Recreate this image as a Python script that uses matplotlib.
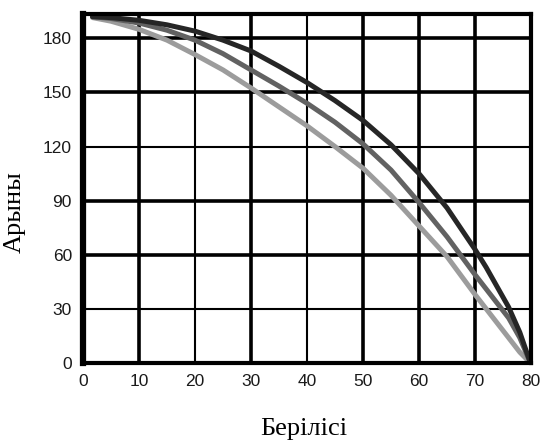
import matplotlib
matplotlib.use("Agg")
import matplotlib.pyplot as plt

# Data
x_vals = [1.7, 5, 10, 15, 20, 25, 30, 35, 40, 45, 50, 55, 60, 65, 70, 72, 74, 76, 78, 79.9]
dark = [192, 191.5, 190, 187.5, 184, 179, 173, 164.5, 155.5, 145.5, 134.5, 121, 105, 86, 63, 53, 42, 31, 17, 0]
mid = [192, 191, 188.5, 184.5, 179, 171.5, 162.5, 153.5, 144, 133.5, 121.5, 107, 89, 70, 49, 41, 33, 25, 14, 0]
light = [191.5, 189.5, 185, 179, 171, 162.5, 152.5, 142, 131.5, 120, 108, 93, 76, 59, 38, 30, 22, 14, 6, 0]
series_colors = ["#9c9c9c", "#626262", "#262626"]

x_ticks = [0, 10, 20, 30, 40, 50, 60, 70, 80]
y_ticks = [0, 30, 60, 90, 120, 150, 180]
x_label = "Берілісі"
y_label = "Арыны"

fig = plt.figure(figsize=(5.43, 4.43), dpi=100)
ax = fig.add_axes([83 / 543, 1 - 363 / 443, (531 - 83) / 543, (363 - 14) / 443])

ax.set_xlim(0, 80)
ax.set_ylim(0, 193.5)

thick_x = {10, 30, 50, 60, 70}
for xv in x_ticks[1:-1]:
    ax.axvline(xv, color="black", lw=2.6 if xv in thick_x else 1.5, zorder=1)
thick_y = {60, 90, 150, 180}
for yv in y_ticks[1:]:
    ax.axhline(yv, color="black", lw=2.6 if yv in thick_y else 1.5, zorder=1)

for ys, c in zip([light, mid, dark], series_colors):
    ax.plot(x_vals, ys, color=c, lw=3.6, solid_capstyle="round",
            solid_joinstyle="round", zorder=3)

for side, w in {"left": 4.5, "bottom": 3.0, "top": 3.0, "right": 3.0}.items():
    ax.spines[side].set_linewidth(w)
    ax.spines[side].set_zorder(5)

ax.set_xticks(x_ticks)
ax.set_yticks(y_ticks)
ax.tick_params(length=0, pad=8)
for lab in ax.get_xticklabels() + ax.get_yticklabels():
    lab.set_family(["Liberation Sans", "DejaVu Sans"])
    lab.set_fontsize(12.5)
    lab.set_color("#1a1a1a")

fig.text(304 / 543, 1 - 429 / 443, x_label, family=["Liberation Serif", "DejaVu Serif"],
         fontsize=19, ha="center", va="center")
fig.text(15 / 543, 1 - 212 / 443, y_label, family=["Liberation Serif", "DejaVu Serif"],
         fontsize=19, ha="center", va="center", rotation=90)

fig.savefig("out.png", dpi=100)
